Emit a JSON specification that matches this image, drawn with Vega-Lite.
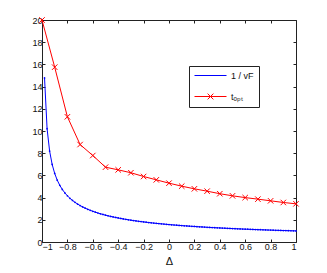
{
  "$schema": "https://vega.github.io/schema/vega-lite/v6.json",
  "autosize": {"type": "none"},
  "padding": {"left": 42, "top": 20, "right": 31, "bottom": 31},
  "width": 254,
  "height": 222,
  "config": {
    "view": {"stroke": "#222", "strokeWidth": 1},
    "font": "Liberation Sans",
    "axis": {"grid": false, "domain": false, "tickColor": "#222", "tickSize": -3, "labelFont": "Liberation Sans", "labelFontSize": 9, "labelColor": "#111", "labelPadding": 3, "titleFont": "Liberation Sans", "titleFontWeight": "normal", "titleFontSize": 11, "titleColor": "#111"}
  },
  "datasets": {
    "blue": [
      {"d": -0.98, "v": 14.780}, {"d": -0.96, "v": 10.206}, {"d": -0.94, "v": 8.188}, {"d": -0.92, "v": 6.988}, {"d": -0.90, "v": 6.173},
      {"d": -0.88, "v": 5.572}, {"d": -0.86, "v": 5.107}, {"d": -0.84, "v": 4.733}, {"d": -0.82, "v": 4.424}, {"d": -0.80, "v": 4.164},
      {"d": -0.78, "v": 3.940}, {"d": -0.76, "v": 3.745}, {"d": -0.74, "v": 3.574}, {"d": -0.72, "v": 3.422}, {"d": -0.70, "v": 3.285},
      {"d": -0.68, "v": 3.162}, {"d": -0.66, "v": 3.050}, {"d": -0.64, "v": 2.948}, {"d": -0.62, "v": 2.854}, {"d": -0.60, "v": 2.768},
      {"d": -0.58, "v": 2.688}, {"d": -0.56, "v": 2.613}, {"d": -0.54, "v": 2.544}, {"d": -0.52, "v": 2.479}, {"d": -0.50, "v": 2.418},
      {"d": -0.48, "v": 2.361}, {"d": -0.46, "v": 2.307}, {"d": -0.44, "v": 2.257}, {"d": -0.42, "v": 2.209}, {"d": -0.40, "v": 2.163},
      {"d": -0.38, "v": 2.120}, {"d": -0.36, "v": 2.078}, {"d": -0.34, "v": 2.039}, {"d": -0.32, "v": 2.002}, {"d": -0.30, "v": 1.966},
      {"d": -0.28, "v": 1.932}, {"d": -0.26, "v": 1.899}, {"d": -0.24, "v": 1.868}, {"d": -0.22, "v": 1.838}, {"d": -0.20, "v": 1.809},
      {"d": -0.18, "v": 1.781}, {"d": -0.16, "v": 1.754}, {"d": -0.14, "v": 1.728}, {"d": -0.12, "v": 1.703}, {"d": -0.10, "v": 1.679},
      {"d": -0.08, "v": 1.656}, {"d": -0.06, "v": 1.634}, {"d": -0.04, "v": 1.612}, {"d": -0.02, "v": 1.591}, {"d": 0.00, "v": 1.571},
      {"d": 0.02, "v": 1.551}, {"d": 0.04, "v": 1.532}, {"d": 0.06, "v": 1.514}, {"d": 0.08, "v": 1.496}, {"d": 0.10, "v": 1.478},
      {"d": 0.12, "v": 1.461}, {"d": 0.14, "v": 1.445}, {"d": 0.16, "v": 1.429}, {"d": 0.18, "v": 1.413}, {"d": 0.20, "v": 1.398},
      {"d": 0.22, "v": 1.383}, {"d": 0.24, "v": 1.368}, {"d": 0.26, "v": 1.354}, {"d": 0.28, "v": 1.341}, {"d": 0.30, "v": 1.327},
      {"d": 0.32, "v": 1.314}, {"d": 0.34, "v": 1.301}, {"d": 0.36, "v": 1.289}, {"d": 0.38, "v": 1.277}, {"d": 0.40, "v": 1.265},
      {"d": 0.42, "v": 1.253}, {"d": 0.44, "v": 1.242}, {"d": 0.46, "v": 1.231}, {"d": 0.48, "v": 1.220}, {"d": 0.50, "v": 1.209},
      {"d": 0.52, "v": 1.199}, {"d": 0.54, "v": 1.189}, {"d": 0.56, "v": 1.179}, {"d": 0.58, "v": 1.169}, {"d": 0.60, "v": 1.159},
      {"d": 0.62, "v": 1.150}, {"d": 0.64, "v": 1.141}, {"d": 0.66, "v": 1.131}, {"d": 0.68, "v": 1.123}, {"d": 0.70, "v": 1.114},
      {"d": 0.72, "v": 1.105}, {"d": 0.74, "v": 1.097}, {"d": 0.76, "v": 1.089}, {"d": 0.78, "v": 1.081}, {"d": 0.80, "v": 1.073},
      {"d": 0.82, "v": 1.065}, {"d": 0.84, "v": 1.057}, {"d": 0.86, "v": 1.049}, {"d": 0.88, "v": 1.042}, {"d": 0.90, "v": 1.035},
      {"d": 0.92, "v": 1.028}, {"d": 0.94, "v": 1.021}, {"d": 0.96, "v": 1.014}, {"d": 0.98, "v": 1.007}, {"d": 1.00, "v": 1.000}
    ],
    "red": [
      {"d": -1.0, "v": 20.0}, {"d": -0.9, "v": 15.75}, {"d": -0.8, "v": 11.28}, {"d": -0.7, "v": 8.78}, {"d": -0.6, "v": 7.79},
      {"d": -0.5, "v": 6.74}, {"d": -0.4, "v": 6.5}, {"d": -0.3, "v": 6.24}, {"d": -0.2, "v": 5.9}, {"d": -0.1, "v": 5.6},
      {"d": 0.0, "v": 5.3}, {"d": 0.1, "v": 5.03}, {"d": 0.2, "v": 4.79}, {"d": 0.3, "v": 4.58}, {"d": 0.4, "v": 4.35},
      {"d": 0.5, "v": 4.16}, {"d": 0.6, "v": 4.0}, {"d": 0.7, "v": 3.86}, {"d": 0.8, "v": 3.71}, {"d": 0.9, "v": 3.56}, {"d": 1.0, "v": 3.44}
    ]
  },
  "resolve": {"axis": {"x": "independent", "y": "independent"}},
  "layer": [
    {
      "data": {"name": "blue"},
      "mark": {"type": "line", "strokeWidth": 1, "clip": true},
      "encoding": {
        "x": {"field": "d", "type": "quantitative", "scale": {"domain": [-1, 1], "nice": false}, "axis": {"orient": "bottom", "values": [-1, -0.8, -0.6, -0.4, -0.2, 0, 0.2, 0.4, 0.6, 0.8, 1], "format": "~g", "title": "Δ", "titlePadding": 4}},
        "y": {"field": "v", "type": "quantitative", "scale": {"domain": [0, 20], "nice": false}, "axis": {"orient": "left", "values": [0, 2, 4, 6, 8, 10, 12, 14, 16, 18, 20], "title": null}},
        "color": {"datum": "1 / vF", "type": "nominal", "scale": {"domain": ["1 / vF", "tₒₚₜ"], "range": ["#0000ff", "#ff0000"]},
          "legend": {"orient": "none", "legendX": 147, "legendY": 46, "title": null, "padding": 5, "fillColor": "white", "strokeColor": "#222", "cornerRadius": 0, "labelFont": "Liberation Sans", "labelFontSize": 9, "labelColor": "#111", "symbolSize": 1024, "clipHeight": 9, "symbolStrokeWidth": 1, "symbolFillColor": "transparent", "labelOffset": 4, "rowPadding": 11,
            "labelExpr": "datum.label + '\u00a0\u00a0\u00a0\u00a0\u00a0\u00a0'",
            "encode": {
              "symbols": {"update": {
                "shape": {"signal": "datum.value === 'tₒₚₜ' ? 'M-1,0H1M-0.18,-0.18L0.18,0.18M-0.18,0.18L0.18,-0.18' : 'M-1,0H1M-0.06,0H0.06'"},
                "stroke": {"scale": "color", "field": "value"},
                "strokeOpacity": {"value": 1},
                "fill": {"value": "transparent"}
              }},
              "labels": {"update": {"fill": {"value": "#111"}}}
            }}}
      }
    },
    {
      "data": {"name": "red"},
      "mark": {"type": "line", "strokeWidth": 1, "clip": true},
      "encoding": {
        "x": {"field": "d", "type": "quantitative", "axis": {"orient": "top", "values": [-1, -0.8, -0.6, -0.4, -0.2, 0, 0.2, 0.4, 0.6, 0.8, 1], "labels": false, "title": null}},
        "y": {"field": "v", "type": "quantitative", "axis": {"orient": "right", "values": [0, 2, 4, 6, 8, 10, 12, 14, 16, 18, 20], "labels": false, "title": null}},
        "color": {"datum": "tₒₚₜ", "type": "nominal"}
      }
    },
    {
      "data": {"name": "blue"},
      "mark": {"type": "point", "filled": true, "size": 3, "color": "#0000ff", "opacity": 1},
      "encoding": {
        "x": {"field": "d", "type": "quantitative", "axis": null},
        "y": {"field": "v", "type": "quantitative", "axis": null}
      }
    },
    {
      "data": {"name": "red"},
      "mark": {"type": "point", "filled": false, "shape": "M-1,-1L1,1M-1,1L1,-1", "size": 30, "strokeWidth": 1, "color": "#ff0000", "opacity": 1, "clip": false},
      "encoding": {
        "x": {"field": "d", "type": "quantitative", "axis": null},
        "y": {"field": "v", "type": "quantitative", "axis": null}
      }
    }
  ]
}
